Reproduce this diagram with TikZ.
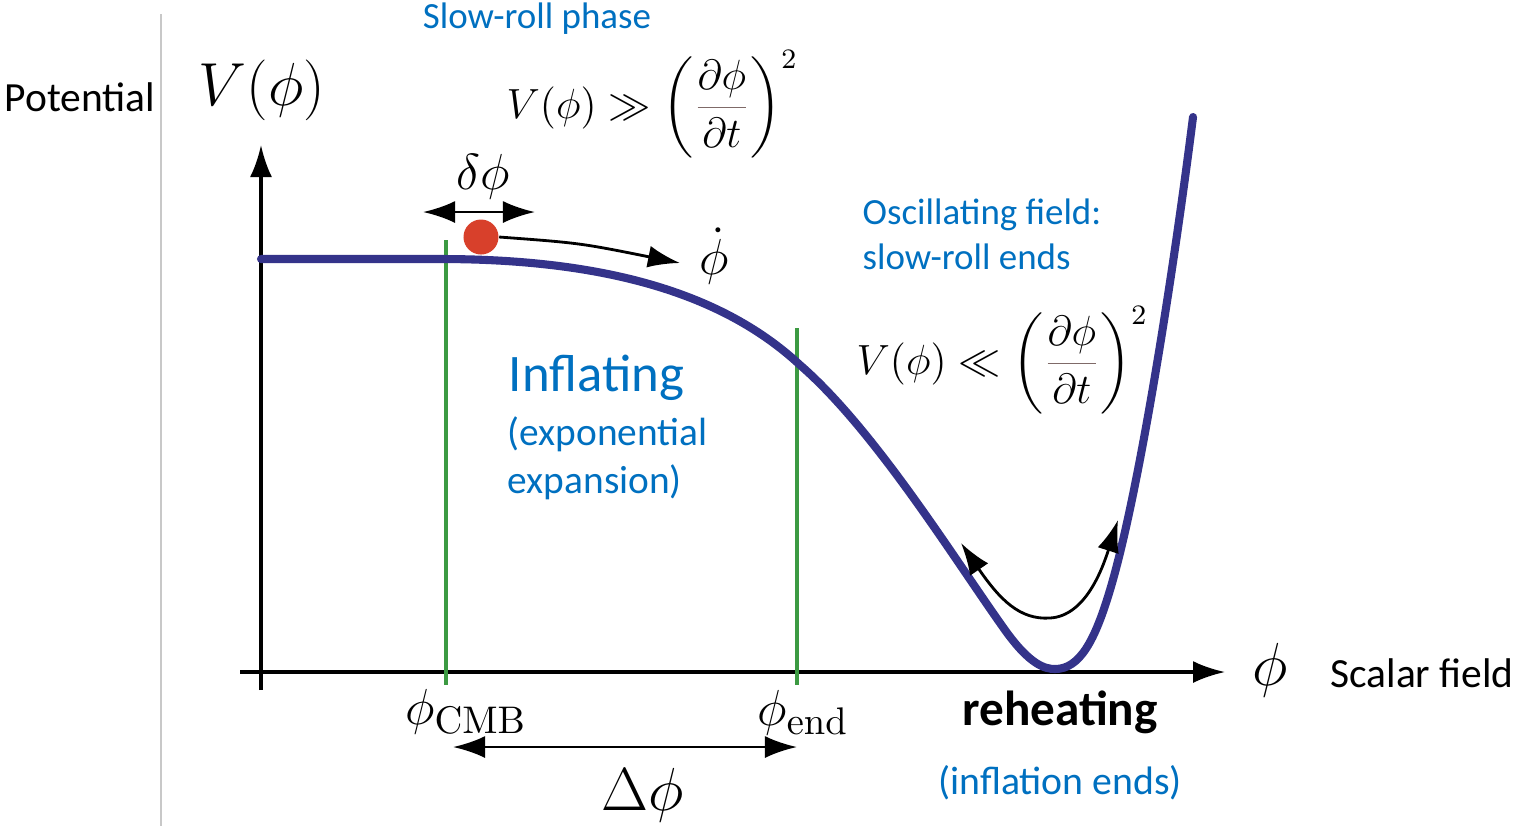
\documentclass[tikz,border=0pt]{standalone}
\usepackage[no-math]{fontspec}
\setmainfont{Carlito}
\usepackage{amsmath}
\usepackage{xcolor}
\usetikzlibrary{arrows.meta,positioning}
\definecolor{InfBlue}{HTML}{0070C0}
\definecolor{InfNavy}{HTML}{34338A}
\definecolor{InfGreen}{HTML}{3C9A42}
\definecolor{InfRed}{HTML}{D8402B}
\definecolor{InfRule}{HTML}{7F6A68}
\definecolor{InfGray}{HTML}{C8C8C8}
\newcommand{\rollfrac}{{\color{InfRule}\frac{\color{black}\partial\phi}{\color{black}\partial t}}}
\tikzset{
  >={Latex[length=3.2mm,width=2.2mm]},
  axis/.style={->,line width=0.9pt,draw=black},
  flow/.style={->,line width=0.8pt,draw=black},
  twoway/.style={<->,line width=0.8pt,draw=black},
  pot/.style={line width=2.3pt,draw=InfNavy,line cap=round},
  marker/.style={line width=1.1pt,draw=InfGreen},
  note/.style={text=InfBlue,inner sep=0pt,align=left,
    font=\fontsize{10.5}{12.8}\selectfont},
  side/.style={inner sep=0pt,font=\fontsize{11.8}{14}\selectfont},
  symb/.style={inner sep=0pt,font=\fontsize{15}{18}\selectfont},
  bigsymb/.style={inner sep=0pt,font=\fontsize{17}{20}\selectfont},
  law/.style={inner sep=0pt,anchor=west,font=\fontsize{12}{15}\selectfont}
}
\begin{document}
\begin{tikzpicture}[x=0.01cm,y=-0.01cm]
  \useasboundingbox (0,0) rectangle (1519,826);
  \draw[InfGray,line width=0.5pt] (161,14) -- (161,826);
  \coordinate (yfoot) at (261,690);
  \coordinate (ytip) at (261,145);
  \coordinate (xfoot) at (240,672);
  \coordinate (xtip) at (1225,672);
  \draw[axis] (yfoot) -- (ytip);
  \draw[axis] (xfoot) -- (xtip);
  \coordinate (cmbtop) at (446,240);
  \coordinate (cmbbot) at (446,685);
  \coordinate (endtop) at (797,328);
  \coordinate (endbot) at (797,685);
  \draw[marker] (cmbtop) -- (cmbbot);
  \draw[marker] (endtop) -- (endbot);
  \draw[pot] (261,259) -- (440,259) .. controls (620,259) and (730,300) .. (800,365)
    .. controls (875,430) and (955,560) .. (1005,630)
    .. controls (1030,665) and (1045,669) .. (1055,669)
    .. controls (1080,669) and (1095,640) .. (1110,590)
    .. controls (1140,490) and (1175,260) .. (1193,117);
  \node[circle,fill=InfRed,inner sep=0pt,minimum size=0.35cm] (ball) at (481,237) {};
  \node[side] (potential) at (80,97) {Potential};
  \node[bigsymb] (vaxis) at (262,90) {$V(\phi)$};
  \node[note] (slowroll) at (537,19) {Slow-roll phase};
  \node[law] (slowlaw) at (506,104) {$\displaystyle V(\phi)\gg\left(\rollfrac\right)^{2}$};
  \node[symb] (dphi) at (483,177) {$\delta\phi$};
  \node[symb] (phidot) at (714,256) {$\dot\phi$};
  \node[note,anchor=west] (oscnote) at (862,234) {Oscillating field:\\slow-roll ends};
  \node[law] (fastlaw) at (856,360) {$\displaystyle V(\phi)\ll\left(\rollfrac\right)^{2}$};
  \node[note,anchor=west,font=\fontsize{15}{18}\selectfont] (inflating) at (508,378) {Inflating};
  \node[note,anchor=west,font=\fontsize{11.2}{13.7}\selectfont] (expo) at (507,458) {(exponential\\expansion)};
  \node[symb] (phicmb) at (466,712) {$\phi_{\mathrm{CMB}}$};
  \node[symb] (phiend) at (803,713) {$\phi_{\mathrm{end}}$};
  \node[inner sep=0pt,font=\fontsize{16}{19}\selectfont] (Dphi) at (643,795) {$\Delta\phi$};
  \node[inner sep=0pt,font=\fontsize{16}{19}\selectfont] (phiaxis) at (1270,670) {$\phi$};
  \node[side] (scalar) at (1422,673) {Scalar field};
  \node[inner sep=0pt,font=\bfseries\fontsize{14}{17}\selectfont] (reheat) at (1060,712) {reheating};
  \node[note,font=\fontsize{11.3}{14}\selectfont] (inflends) at (1060,783) {(inflation ends)};
  \coordinate (dl) at (423,212);
  \coordinate (dr) at (535,212);
  \draw[twoway] (dl) -- (dr);
  \coordinate (rolltip) at (680,263);
  \draw[flow] (ball.east) .. controls (580,243) .. (rolltip);
  \coordinate (Dl) at (453,747);
  \coordinate (Dr) at (797,747);
  \draw[twoway] (Dl) -- (Dr);
  \coordinate (oscl) at (961,543);
  \coordinate (oscr) at (1118,520);
  \draw[twoway] (oscl) .. controls (1000,600) and (1020,620) .. (1050,618)
    .. controls (1085,616) and (1102,570) .. (oscr);
\end{tikzpicture}
\end{document}
